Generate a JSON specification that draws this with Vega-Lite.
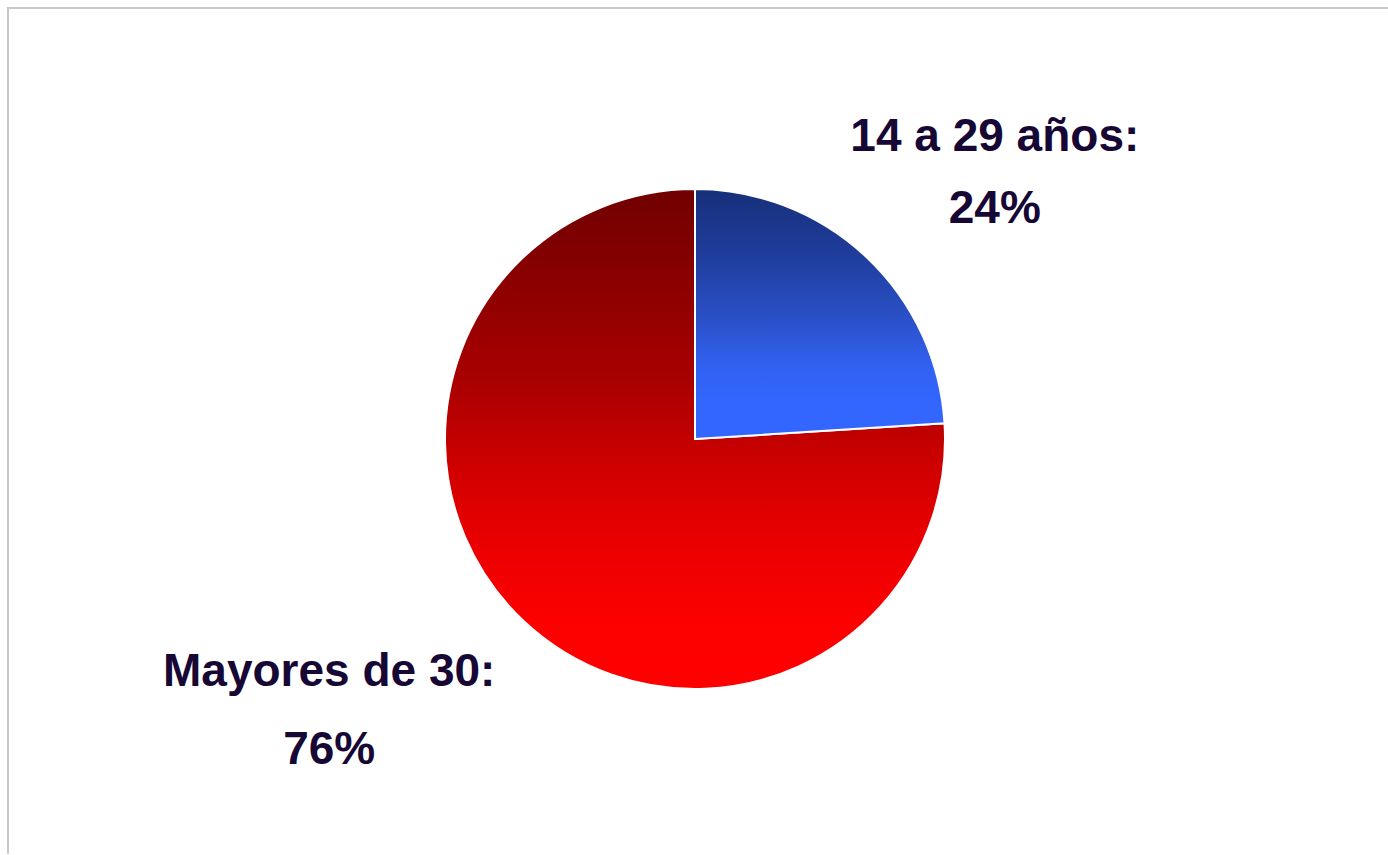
{
  "$schema": "https://vega.github.io/schema/vega-lite/v6.json",
  "autosize": {"type": "none"},
  "width": 1380,
  "height": 847,
  "padding": {"left": 8, "top": 8, "right": 0, "bottom": 0},
  "background": "white",
  "view": {"stroke": "#c8c8c8", "strokeWidth": 2, "strokeDash": [1381, 2227, 848]},
  "data": {
    "values": [
      {"grupo": "14 a 29 años", "pct": 24, "etiqueta": "14 a 29 años:\n24%"},
      {"grupo": "Mayores de 30", "pct": 76, "etiqueta": "Mayores de 30:\n76%"}
    ]
  },
  "encoding": {
    "theta": {"field": "pct", "type": "quantitative", "stack": true},
    "detail": {"field": "grupo", "type": "nominal"}
  },
  "layer": [
    {
      "mark": {
        "type": "arc",
        "radius": 250,
        "xOffset": -3,
        "yOffset": 7.5,
        "stroke": "white",
        "strokeWidth": 2,
        "fill": {
          "gradient": "linear", "x1": 0, "y1": 0, "x2": 0, "y2": 1,
          "stops": [
            {"offset": 0, "color": "#700000"},
            {"offset": 0.38, "color": "#a80000"},
            {"offset": 0.58, "color": "#d40000"},
            {"offset": 0.72, "color": "#ec0000"},
            {"offset": 0.86, "color": "#fc0000"},
            {"offset": 1, "color": "#ff0000"}
          ]
        }
      },
      "encoding": {
        "opacity": {"condition": {"test": "datum.grupo === 'Mayores de 30'", "value": 1}, "value": 0}
      }
    },
    {
      "mark": {
        "type": "arc",
        "radius": 250,
        "xOffset": -3,
        "yOffset": 7.5,
        "stroke": "white",
        "strokeWidth": 2,
        "fill": {
          "gradient": "linear", "x1": 0, "y1": 0, "x2": 0, "y2": 1,
          "stops": [
            {"offset": 0, "color": "#17307a"},
            {"offset": 0.25, "color": "#1f3c9a"},
            {"offset": 0.5, "color": "#2a4fc4"},
            {"offset": 0.72, "color": "#3262f2"},
            {"offset": 0.85, "color": "#3366ff"},
            {"offset": 1, "color": "#3366ff"}
          ]
        }
      },
      "encoding": {
        "opacity": {"condition": {"test": "datum.grupo === '14 a 29 años'", "value": 1}, "value": 0}
      }
    },
    {
      "mark": {
        "type": "text",
        "radius": 400,
        "dx": 23,
        "dy": 11,
        "align": "center",
        "baseline": "alphabetic",
        "lineBreak": "\n",
        "lineHeight": 72,
        "font": "Liberation Sans",
        "fontWeight": "bold",
        "fontSize": 46,
        "color": "#170735"
      },
      "encoding": {
        "text": {"field": "etiqueta", "type": "nominal"},
        "opacity": {"condition": {"test": "datum.grupo === '14 a 29 años'", "value": 1}, "value": 0}
      }
    },
    {
      "mark": {
        "type": "text",
        "radius": 400,
        "dx": -95,
        "dy": -37,
        "align": "center",
        "baseline": "alphabetic",
        "lineBreak": "\n",
        "lineHeight": 78,
        "font": "Liberation Sans",
        "fontWeight": "bold",
        "fontSize": 46,
        "color": "#170735"
      },
      "encoding": {
        "text": {"field": "etiqueta", "type": "nominal"},
        "opacity": {"condition": {"test": "datum.grupo === 'Mayores de 30'", "value": 1}, "value": 0}
      }
    }
  ]
}
